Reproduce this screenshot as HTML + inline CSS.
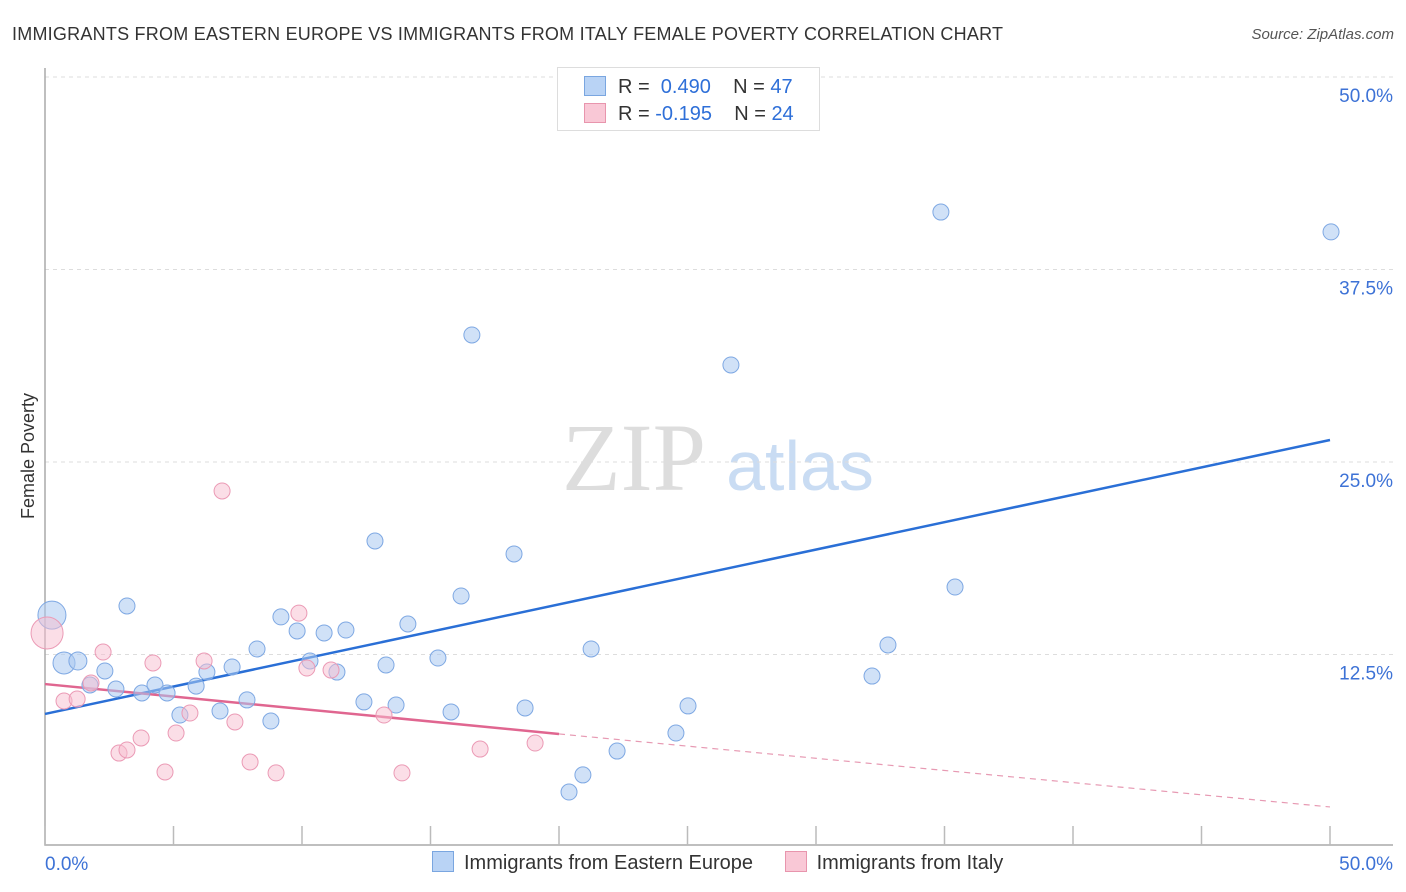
<!DOCTYPE html>
<html><head><meta charset="utf-8"><style>
body{margin:0;background:#fff;font-family:"Liberation Sans",sans-serif;}
#wrap{position:relative;width:1406px;height:892px;overflow:hidden;}
</style></head><body>
<div id="wrap">
<svg id="svg" width="1406" height="892" style="position:absolute;left:0;top:0">
<text x="12" y="40" font-size="18" fill="#333" textLength="991">IMMIGRANTS FROM EASTERN EUROPE VS IMMIGRANTS FROM ITALY FEMALE POVERTY CORRELATION CHART</text>
<text x="1394" y="39" font-size="15" fill="#555" font-style="italic" text-anchor="end">Source: ZipAtlas.com</text>
<text x="34" y="456" font-size="18" fill="#333" text-anchor="middle" transform="rotate(-90 34 456)">Female Poverty</text>
<g>
<text x="634" y="490" font-size="96" fill="#ddd" text-anchor="middle" font-family="Liberation Serif,serif">ZIP</text>
<text x="800" y="490" font-size="70" fill="#c9dcf3" text-anchor="middle">atlas</text>
</g>
<g id="grid"></g><g id="axes"></g><g id="trend"></g><g id="pts"></g>
</svg>
<div style="position:absolute;left:557px;top:67px;width:261px;height:62px;border:1px solid #ddd;background:#fff;font-size:20px;color:#333">
<div style="position:absolute;left:26px;top:8px;white-space:nowrap"><span style="display:inline-block;width:20px;height:18px;background:#b9d3f5;border:1px solid #7aa6e0;vertical-align:-3px;margin-right:12px"></span>R = <span style="color:#2e6fd8">&nbsp;0.490</span>&nbsp;&nbsp;&nbsp; N = <span style="color:#2e6fd8">47</span></div>
<div style="position:absolute;left:26px;top:35px;white-space:nowrap"><span style="display:inline-block;width:20px;height:18px;background:#f9c8d6;border:1px solid #e895ad;vertical-align:-3px;margin-right:12px"></span>R = <span style="color:#2e6fd8">-0.195</span>&nbsp;&nbsp;&nbsp; N = <span style="color:#2e6fd8">24</span></div>
</div>
<div style="position:absolute;left:432px;top:851px;font-size:20px;color:#333;white-space:nowrap">
<span><span style="display:inline-block;width:20px;height:19px;background:#b9d3f5;border:1px solid #7aa6e0;vertical-align:-3px;margin-right:10px"></span>Immigrants from Eastern Europe</span>
<span style="margin-left:26px"><span style="display:inline-block;width:20px;height:19px;background:#f9c8d6;border:1px solid #e895ad;vertical-align:-3px;margin-right:10px"></span>Immigrants from Italy</span>
</div>
</div>
<script>
const blueX=[0.27,0.74,1.28,1.75,2.33,2.76,3.19,3.77,4.28,4.75,5.25,5.88,6.30,6.81,7.28,7.86,8.25,8.79,9.18,9.81,10.31,10.86,11.36,11.71,12.41,12.84,13.27,13.66,14.12,15.29,15.80,16.19,16.61,18.25,18.68,20.39,20.93,21.25,22.26,24.55,25.02,26.69,32.18,32.80,34.86,35.41,50.04];
const blueY=[15.06,11.95,12.08,10.52,11.43,10.26,15.65,10.0,10.52,10.0,8.57,10.45,11.36,8.83,11.69,9.55,12.86,8.18,14.94,14.03,12.08,13.90,11.36,14.09,9.42,19.87,11.82,9.22,14.48,12.27,8.77,16.30,33.25,19.03,9.03,3.57,4.68,12.86,6.23,7.40,9.16,31.30,11.10,13.12,41.23,16.88,39.94];
const blueR=[14,11,9,8,8,8,8,8,8,8,8,8,8,8,8,8,8,8,8,8,8,8,8,8,8,8,8,8,8,8,8,8,8,8,8,8,8,8,8,8,8,8,8,8,8,8,8];
const pinkX=[0.08,0.74,1.25,1.79,2.26,2.88,3.19,3.74,4.20,4.67,5.10,5.64,6.19,6.89,7.39,7.98,8.99,9.88,10.19,11.13,13.19,13.89,16.93,19.07];
const pinkY=[13.90,9.48,9.61,10.65,12.66,6.10,6.30,7.08,11.95,4.87,7.40,8.70,12.08,23.12,8.12,5.52,4.81,15.19,11.62,11.49,8.57,4.81,6.36,6.75];
const pinkR=[16,8,8,8,8,8,8,8,8,8,8,8,8,8,8,8,8,8,8,8,8,8,8,8];
const blueTrend=[[0,8.64],[50,26.43]];
const pinkTrend=[[0,10.58],[20,7.34],[50,2.60]];
const yTicks=[12.5,25,37.5,50];
const yTickLabels=["12.5%","25.0%","37.5%","50.0%"];
const xTicks=[0,5,10,15,20,25,30,35,40,45,50];
const NS="http://www.w3.org/2000/svg";
const sx=v=>45+v*25.7, sy=v=>847-v*15.4;
function mk(p,t,a){const e=document.createElementNS(NS,t);for(const k in a)e.setAttribute(k,a[k]);document.getElementById(p).appendChild(e);return e;}
yTicks.forEach((t,i)=>{
 const l=mk('grid','line',{x1:45,x2:1393,y1:sy(t),y2:sy(t),stroke:'#ddd','stroke-dasharray':'4,4'});
 
 
 const tx=mk('grid','text',{x:1393,y:sy(t)+25,'font-size':19,fill:'#3d72d6','text-anchor':'end'});
 tx.textContent=yTickLabels[i];
 
 
});
const ax=mk('axes','path',{d:'M45 68V845H1393',stroke:'#aaa',fill:'none','stroke-width':1.5});


xTicks.forEach(t=>{const l=mk('axes','line',{x1:sx(t),x2:sx(t),y1:826,y2:845,stroke:'#bbb','stroke-width':1.5});
 
 });
[[0,'0.0%','start',45],[50,'50.0%','end',1393]].forEach(d=>{const t=mk('axes','text',{x:d[3],y:870,'font-size':19,fill:'#3d72d6','text-anchor':d[2]});t.textContent=d[1];
 
 });
const bt=mk('trend','line',{x1:sx(blueTrend[0][0]),y1:sy(blueTrend[0][1]),x2:sx(blueTrend[1][0]),y2:sy(blueTrend[1][1]),stroke:'#2a6fd6','stroke-width':2.5});


const pt=mk('trend','line',{x1:sx(pinkTrend[0][0]),y1:sy(pinkTrend[0][1]),x2:sx(pinkTrend[1][0]),y2:sy(pinkTrend[1][1]),stroke:'#e06690','stroke-width':2.5});


const pd=mk('trend','line',{x1:sx(pinkTrend[1][0]),y1:sy(pinkTrend[1][1]),x2:sx(pinkTrend[2][0]),y2:sy(pinkTrend[2][1]),stroke:'#e79ab3','stroke-width':1.2,'stroke-dasharray':'6,5'});


blueX.forEach((x,i)=>{const c=mk('pts','circle',{cx:sx(x),cy:sy(blueY[i]),r:blueR[i],fill:'rgba(170,200,240,0.55)',stroke:'#7ea8e3','stroke-width':1});
 
 });
pinkX.forEach((x,i)=>{const c=mk('pts','circle',{cx:sx(x),cy:sy(pinkY[i]),r:pinkR[i],fill:'rgba(248,190,208,0.5)',stroke:'#eb9ab5','stroke-width':1});
 
 });
</script>
</body></html>
